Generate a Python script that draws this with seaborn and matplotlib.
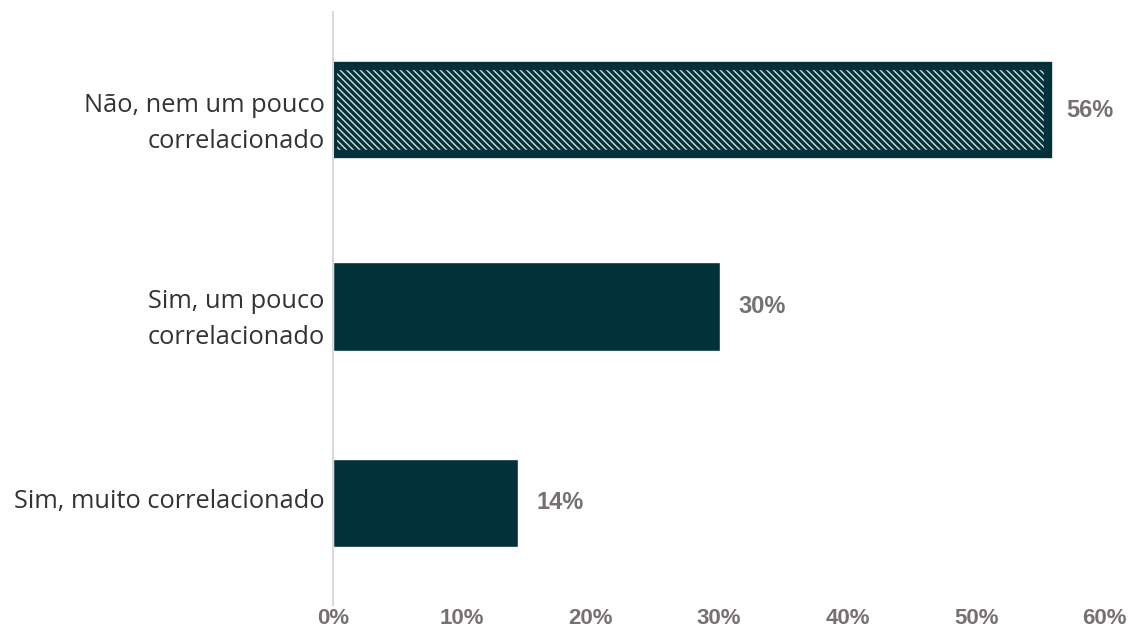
import matplotlib
matplotlib.use('Agg')
import matplotlib.pyplot as plt
import matplotlib.transforms as mtransforms
import seaborn as sns
import pandas as pd

# Respostas e percentuais
categorias = ['Não, nem um pouco\ncorrelacionado', 'Sim, um pouco\ncorrelacionado', 'Sim, muito correlacionado']
percentuais = [0.556, 0.301, 0.144]
rotulos = ['56%', '30%', '14%']
ticks_x = [0, 0.1, 0.2, 0.3, 0.4, 0.5, 0.6]

df = pd.DataFrame({'categoria': categorias, 'percentual': percentuais})

sns.set_style('white')
plt.rcParams['font.family'] = ['Open Sans', 'DejaVu Sans']
plt.rcParams['hatch.linewidth'] = 2.4

cor = '#02313a'
fig = plt.figure(figsize=(11.32, 6.34), dpi=100)
ax = fig.add_axes([0.294, 0.046, 0.682, 0.935])

sns.barplot(data=df, x='percentual', y='categoria', orient='h', color=cor,
            saturation=1, width=0.45, ax=ax)

# primeira barra destacada com padrão hachurado
destaque = ax.patches[0]
destaque.set_facecolor('#d5e3e3')
destaque.set_edgecolor(cor)
destaque.set_hatch('\\\\\\\\\\')
destaque.set_linewidth(6)

for p, txt in zip(ax.patches, rotulos):
    ax.annotate(txt, (p.get_width(), p.get_y() + p.get_height() / 2),
                xytext=(13, 0), textcoords='offset points', ha='left', va='center',
                fontsize=17, fontweight='bold', color='#767171', family='Liberation Sans')

ax.set_xlim(0, 0.6)
ax.set_ylim(2.52, -0.5)
ax.set_xticks(ticks_x)
ax.set_xticklabels([f'{int(round(t * 100))}%' for t in ticks_x], fontsize=16,
                   fontweight='bold', color='#767171', family='Liberation Sans')
ax.tick_params(axis='x', length=0, pad=2)
ax.tick_params(axis='y', length=0, pad=6, labelsize=18.3, labelcolor='#333333')
ax.set_xlabel('')
ax.set_ylabel('')
for s in ['top', 'right', 'bottom']:
    ax.spines[s].set_visible(False)
ax.spines['left'].set_color('#d9d9d9')
ax.spines['left'].set_linewidth(1.5)
ax.grid(False)
for lbl in ax.get_yticklabels():
    lbl.set_horizontalalignment('right')
    lbl.set_multialignment('right')
    lbl.set_linespacing(1.58)
    # rótulos de duas linhas um pouco abaixo do centro, os de uma linha um pouco acima
    dy = -3.5 if '\n' in lbl.get_text() else 3
    lbl.set_transform(lbl.get_transform() +
                      mtransforms.ScaledTranslation(0, dy / 72, fig.dpi_scale_trans))

fig.savefig('out.png', dpi=100)
plt.close(fig)
